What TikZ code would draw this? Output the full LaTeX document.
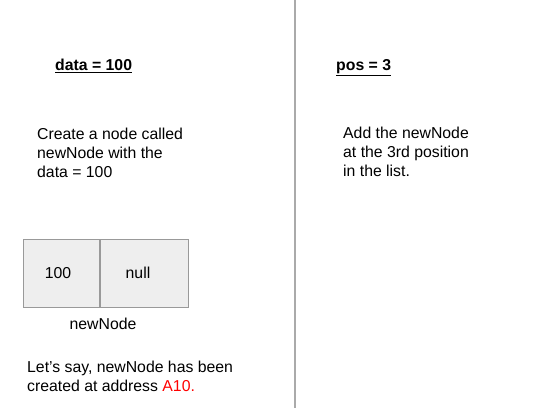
\documentclass[tikz,border=0pt]{standalone}
\usepackage{fontspec}
\setmainfont{Liberation Sans}
\usepackage{tikz}
\usetikzlibrary{positioning}
\usepackage{xcolor}
\definecolor{cellfill}{RGB}{238,238,238}
\definecolor{celledge}{RGB}{153,153,153}
\definecolor{divider}{RGB}{170,170,170}
\definecolor{addr}{RGB}{255,0,0}

\tikzset{
    txt/.style={anchor=base west, align=left, inner sep=0pt,
        font=\fontsize{15.8}{19}\selectfont},
    heading/.style={txt, font=\fontsize{15.8}{19}\selectfont\bfseries},
    cell/.style={draw=celledge, fill=cellfill, line width=0.9pt,
        minimum height=68pt, inner sep=0pt,
        font=\fontsize{15.8}{19}\selectfont}
}

\begin{document}
\begin{tikzpicture}[x=1pt, y=-1pt]
    \useasboundingbox (0,0) rectangle (556,411);
    % divider between the two halves
    \coordinate (top) at (295,0);
    \coordinate (bottom) at (295,408);
    \draw[divider, line width=1.5pt] (top) -- (bottom);

    % left half (multi-line texts sit on their last baseline)
    \node[heading] (dataTitle) at (55,71) {\underline{data = 100}};
    \node[txt] (createText) at (37,178) {Create a node called\\newNode with the\\data = 100};
    \node[cell, minimum width=76pt, anchor=north west] (dataCell) at (23,239) {};
    \node[cell, minimum width=88pt, right=0pt of dataCell] (nextCell) {};
    \node[txt, anchor=base] (dataVal) at (58,279) {100};
    \node[txt, anchor=base] (nextVal) at (138,279) {null};
    \node[txt, anchor=base] (nodeName) at (103,329) {newNode};
    \node[txt] (addrText) at (27,391) {Let’s say, newNode has been\\created at address \textcolor{addr}{A10.}};

    % right half
    \node[heading] (posTitle) at (336,71) {\underline{pos = 3}};
    \node[txt] (addText) at (343,177) {Add the newNode\\at the 3rd position\\in the list.};
\end{tikzpicture}
\end{document}
